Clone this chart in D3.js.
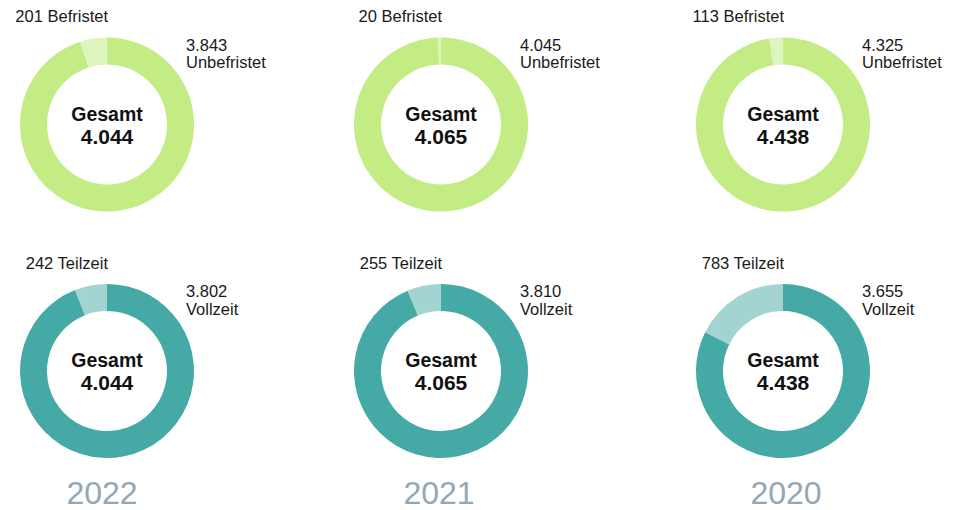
<!DOCTYPE html>
<html lang="de">
<head>
  <meta charset="UTF-8">
  <title>Beschäftigte</title>
  <script src="https://d3js.org/d3.v7.min.js"></script>
  <style>
    body { margin: 0; background: #fff; }
    text { font-family: "Liberation Sans", Arial, sans-serif; }
  </style>
</head>
<body>
<script>
  // Data
  const years = ["2022", "2021", "2020"];
  const totals = [4044, 4065, 4438];
  const unbefristet = [3843, 4045, 4325];
  const befristet = [201, 20, 113];
  const vollzeit = [3802, 3810, 3655];
  const teilzeit = [242, 255, 783];

  const rows = [
    {big: unbefristet, small: befristet, bigName: "Unbefristet", smallName: "Befristet",
     colors: ["#c3ec84", "#def5c0"]},
    {big: vollzeit, small: teilzeit, bigName: "Vollzeit", smallName: "Teilzeit",
     colors: ["#45a9a5", "#a3d4d1"]}
  ];

  const width = 953, height = 510;
  const fmt = d3.formatLocale({decimal: ",", thousands: ".", grouping: [3], currency: ["", "€"]}).format(",d");

  const colX = d3.scaleOrdinal().domain(years).range([107, 441, 783]);
  const yearX = d3.scaleOrdinal().domain(years).range([102, 439, 786]);
  const rowY = [124.5, 371];
  const outerR = 87, innerR = 60;

  const svg = d3.select("body")
    .append("svg")
    .attr("width", width)
    .attr("height", height);

  const pie = d3.pie().sort(null).value(d => d);
  const arc = d3.arc().innerRadius(innerR).outerRadius(outerR);

  rows.forEach((row, ri) => {
    years.forEach((yr, i) => {
      const cx = colX(yr), cy = rowY[ri];
      const g = svg.append("g").attr("transform", `translate(${cx},${cy})`);

      g.selectAll("path")
        .data(pie([row.big[i], row.small[i]]))
        .enter()
        .append("path")
        .attr("d", arc)
        .attr("fill", (d, j) => row.colors[j]);

      // center
      g.append("text")
        .attr("text-anchor", "middle")
        .attr("y", -4)
        .attr("font-size", 19.5)
        .attr("font-weight", "bold")
        .attr("fill", "#111")
        .text("Gesamt");
      g.append("text")
        .attr("text-anchor", "middle")
        .attr("y", 19)
        .attr("font-size", 21)
        .attr("font-weight", "bold")
        .attr("fill", "#111")
        .text(fmt(totals[i]));

      // small value label
      g.append("text")
        .attr("text-anchor", "end")
        .attr("x", 1)
        .attr("y", -102.5)
        .attr("font-size", 16.5)
        .attr("fill", "#1a1a1a")
        .text(`${fmt(row.small[i])} ${row.smallName}`);

      // big value label
      const bl = g.append("text")
        .attr("y", -74)
        .attr("font-size", 16.5)
        .attr("fill", "#1a1a1a");
      bl.append("tspan").attr("x", 79).text(fmt(row.big[i]));
      bl.append("tspan").attr("x", 79).attr("dy", 17.5).text(row.bigName);
    });
  });

  // year labels
  svg.selectAll(".year")
    .data(years)
    .enter()
    .append("text")
    .attr("class", "year")
    .attr("x", d => yearX(d))
    .attr("y", 504)
    .attr("text-anchor", "middle")
    .attr("font-size", 32)
    .attr("fill", "#93a7b6")
    .style("font-weight", 300)
    .text(d => d);
</script>
</body>
</html>
